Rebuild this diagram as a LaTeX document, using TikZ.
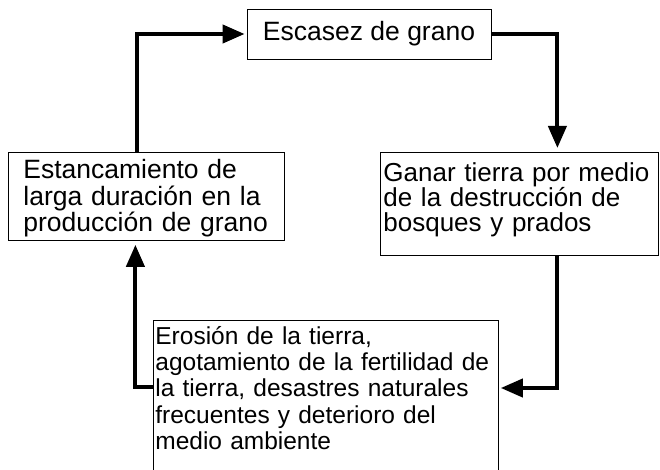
\documentclass[tikz,border=0pt]{standalone}
\usepackage{fontspec}
\setmainfont{Liberation Sans}
\usetikzlibrary{arrows.meta}

\tikzset{
  caja/.style={draw, rectangle, line width=0.8pt, anchor=north west,
    align=left, text height=19pt},
  flecha/.style={line width=4pt, -{Triangle[length=22pt,width=18pt]}}
}

\begin{document}
\begin{tikzpicture}[x=1pt,y=-1pt]
  \clip (0,0) rectangle (660,470);
  \node[draw, line width=0.8pt, minimum width=244pt, minimum height=50pt,
    inner sep=0pt, font=\fontsize{26.5}{26}\selectfont] (grano) at (369,34)
    {Escasez de grano};
  \node[caja, inner xsep=15pt, inner ysep=7.6pt, text width=246pt, text depth=53.8pt,
    font=\fontsize{26.5}{26}\selectfont] (estanc) at (8,152)
    {Estancamiento de\\larga duración en la\\producción de grano};
  \node[caja, inner xsep=3pt, inner ysep=10.6pt, text width=272pt, text depth=62.8pt,
    font=\fontsize{26}{25}\selectfont] (ganar) at (380,152)
    {Ganar tierra por medio\\de la destrucción de\\bosques y prados};
  \node[caja, inner xsep=2pt, inner ysep=5pt, text width=341pt, text depth=200pt,
    font=\fontsize{24.5}{26.2}\selectfont] (erosion) at (153,320)
    {Erosión de la tierra,\\agotamiento de la fertilidad de\\la tierra, desastres naturales\\frecuentes y deterioro del\\medio ambiente};
  % ciclo
  \draw[flecha] ([xshift=-9pt]estanc.north) |- ([xshift=-2pt]grano.west);
  \draw[flecha] (grano.east) -| ([xshift=38pt,yshift=4pt]ganar.north);
  \draw[flecha] ([xshift=38pt]ganar.south) |- ([shift={(2pt,-68pt)}]erosion.north east);
  \draw[flecha] ([yshift=-67pt]erosion.north west) -| ([xshift=-11pt,yshift=-4pt]estanc.south);
\end{tikzpicture}
\end{document}
